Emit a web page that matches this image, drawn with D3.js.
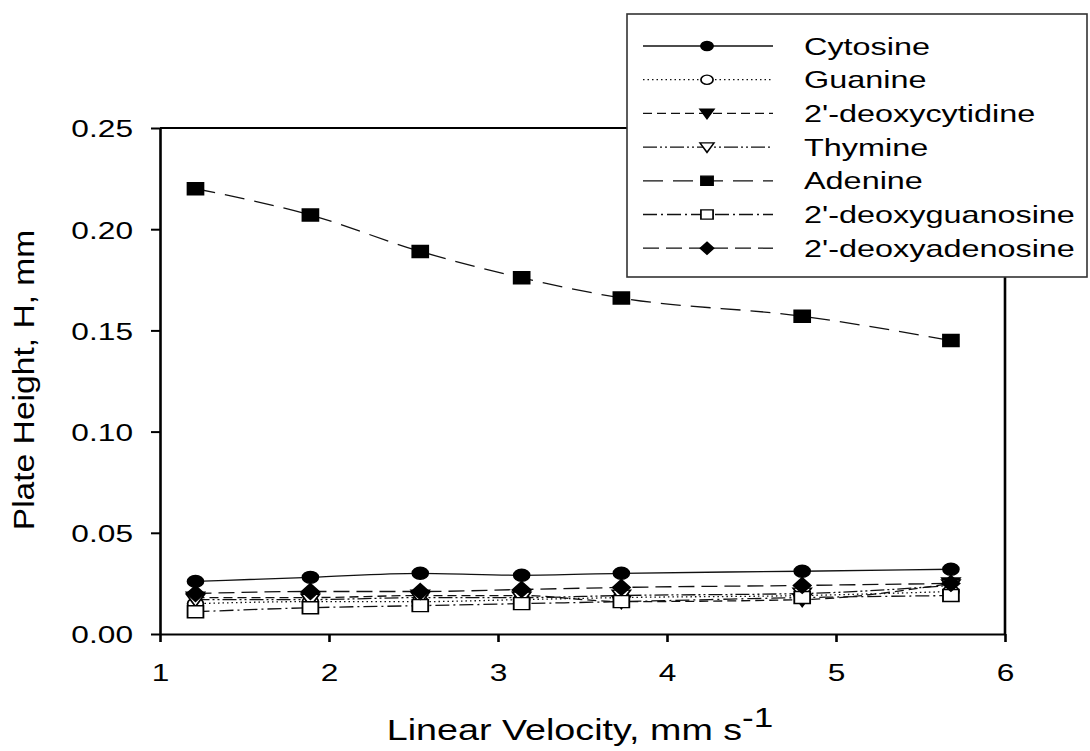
<!DOCTYPE html>
<html>
<head>
<meta charset="utf-8">
<script src="https://cdn.jsdelivr.net/npm/d3@7"></script>
<style>
  body { margin: 0; background: #fff; }
  text { font-family: "Liberation Sans", Arial, sans-serif; fill: #000; }
</style>
</head>
<body>
<div id="chart"></div>
<script>
// *****Data*****
var velocity = [1.21, 1.89, 2.54, 3.14, 3.73, 4.80, 5.68];

var cytosine           = [0.026, 0.028, 0.030, 0.029, 0.030, 0.031, 0.032];
var guanine            = [0.015, 0.016, 0.016, 0.017, 0.018, 0.019, 0.021];
var deoxycytidine      = [0.018, 0.018, 0.019, 0.019, 0.016, 0.017, 0.025];
var thymine            = [0.017, 0.017, 0.018, 0.018, 0.019, 0.020, 0.024];
var adenine            = [0.220, 0.207, 0.189, 0.176, 0.166, 0.157, 0.145];
var deoxyguanosine     = [0.011, 0.013, 0.014, 0.015, 0.016, 0.018, 0.019];
var deoxyadenosine     = [0.020, 0.021, 0.021, 0.022, 0.023, 0.024, 0.025];

var seriesNames = ["Cytosine", "Guanine", "2'-deoxycytidine", "Thymine",
                   "Adenine", "2'-deoxyguanosine", "2'-deoxyadenosine"];

var xTicks = [1, 2, 3, 4, 5, 6];
var yTicks = [0.00, 0.05, 0.10, 0.15, 0.20, 0.25];

// the picture is stretched sideways, text and markers follow that
var stretch = 1.32;

// *****Marker shapes*****
var circleM = { draw: function(ctx, r) { ctx.moveTo(r, 0); ctx.arc(0, 0, r, 0, 2 * Math.PI); } };
var squareM = { draw: function(ctx, r) { ctx.rect(-r, -r, 2 * r, 2 * r); } };
var triDownM = { draw: function(ctx, r) {
  ctx.moveTo(-r * 1.15, -r * 0.9); ctx.lineTo(r * 1.15, -r * 0.9); ctx.lineTo(0, r * 1.15); ctx.closePath();
} };
var diamondM = { draw: function(ctx, r) {
  ctx.moveTo(0, -r * 1.3); ctx.lineTo(r * 1.1, 0); ctx.lineTo(0, r * 1.3); ctx.lineTo(-r * 1.1, 0); ctx.closePath();
} };

var series = [
  {name: seriesNames[0], values: cytosine,       shape: circleM,  fill: "#000", dash: null},
  {name: seriesNames[1], values: guanine,        shape: circleM,  fill: "#fff", dash: "1.5,3"},
  {name: seriesNames[2], values: deoxycytidine,  shape: triDownM, fill: "#000", dash: "9,5"},
  {name: seriesNames[3], values: thymine,        shape: triDownM, fill: "#fff", dash: "14,3,2,3,2,3"},
  {name: seriesNames[4], values: adenine,        shape: squareM,  fill: "#000", dash: "20,10"},
  {name: seriesNames[5], values: deoxyguanosine, shape: squareM,  fill: "#fff", dash: "14,4,2,4"},
  {name: seriesNames[6], values: deoxyadenosine, shape: diamondM, fill: "#000", dash: "16,7"}
];

// *****Chart*****
var W = 1090, H = 751;
var svg = d3.select("#chart")
  .append("svg")
    .attr("width", W)
    .attr("height", H);

var x = d3.scaleLinear().domain([1, 6]).range([160, 1005]);
var y = d3.scaleLinear().domain([0, 0.25]).range([634, 128]);

// Y axis
var yAxis = svg.append("g")
  .attr("transform", "translate(" + x(1) + ",0)")
  .call(d3.axisLeft(y).tickValues(yTicks).tickFormat(d3.format(".2f")).tickSize(9).tickSizeOuter(0));
yAxis.select(".domain").attr("stroke-width", 2.6).attr("stroke", "#000");
yAxis.selectAll(".tick line").attr("stroke-width", 2).attr("stroke", "#000");
yAxis.selectAll(".tick text")
  .attr("x", -27 / stretch)
  .attr("dy", "0.37em")
  .attr("font-size", 24)
  .attr("font-family", "Liberation Sans, Arial, sans-serif")
  .attr("transform", "scale(" + stretch + ",1)");

// X axis
var xAxis = svg.append("g")
  .attr("transform", "translate(0," + y(0) + ")")
  .call(d3.axisBottom(x).tickValues(xTicks).tickFormat(d3.format("d")).tickSize(8).tickSizeOuter(0));
xAxis.select(".domain").attr("stroke-width", 2).attr("stroke", "#000");
xAxis.selectAll(".tick line").attr("stroke-width", 2.6).attr("stroke", "#000");
xAxis.selectAll(".tick text")
  .attr("y", 47)
  .attr("dy", 0)
  .attr("font-size", 24)
  .attr("font-family", "Liberation Sans, Arial, sans-serif")
  .attr("transform", "scale(" + stretch + ",1)");

// frame top and right
svg.append("line")
  .attr("x1", x(1)).attr("x2", x(6)).attr("y1", y(0.25)).attr("y2", y(0.25))
  .attr("stroke", "#000").attr("stroke-width", 2);
svg.append("line")
  .attr("x1", x(6)).attr("x2", x(6)).attr("y1", y(0.25) - 1).attr("y2", y(0))
  .attr("stroke", "#000").attr("stroke-width", 2.6);

// Lines
var line = d3.line()
  .x(function(d, i) { return x(velocity[i]); })
  .y(function(d) { return y(d); })
  .curve(d3.curveMonotoneX);

svg.selectAll("myline")
  .data(series)
  .enter()
  .append("path")
    .attr("d", function(s) { return line(s.values); })
    .attr("fill", "none")
    .attr("stroke", "#111")
    .attr("stroke-width", 1.3)
    .attr("stroke-dasharray", function(s) { return s.dash; });

// Markers
series.forEach(function(s) {
  svg.selectAll("mymarker")
    .data(s.values)
    .enter()
    .append("path")
      .attr("d", d3.symbol().type(s.shape).size(6))
      .attr("transform", function(d, i) {
        return "translate(" + x(velocity[i]) + "," + y(d) + ") scale(" + stretch + ",1)";
      })
      .attr("fill", s.fill)
      .attr("stroke", "#000")
      .attr("stroke-width", 1.4);
});

// *****Legend*****
var legend = svg.append("g");
legend.append("rect")
  .attr("x", 627).attr("y", 14).attr("width", 460).attr("height", 263)
  .attr("fill", "#fff").attr("stroke", "#333").attr("stroke-width", 1.6);

var rows = legend.selectAll("myrow")
  .data(series)
  .enter()
  .append("g")
    .attr("transform", function(s, i) { return "translate(0," + (46 + i * 33.7) + ")"; });

rows.append("line")
  .attr("x1", 643).attr("x2", 773)
  .attr("stroke", "#111").attr("stroke-width", 1.3)
  .attr("stroke-dasharray", function(s) { return s.dash; });

rows.append("path")
  .attr("d", function(s) { return d3.symbol().type(s.shape).size(4.6)(); })
  .attr("transform", "translate(707,0) scale(" + stretch + ",1)")
  .attr("fill", function(s) { return s.fill; })
  .attr("stroke", "#000").attr("stroke-width", 1.3);

rows.append("text")
  .attr("transform", "translate(804,8.6) scale(1.35,1)")
  .attr("font-size", 24)
  .text(function(s) { return s.name; });

// *****Axis titles*****
var xTitle = svg.append("text")
  .attr("transform", "translate(580,740) scale(1.3,1)")
  .attr("text-anchor", "middle")
  .attr("font-size", 29);
xTitle.append("tspan").text("Linear Velocity, mm s");
xTitle.append("tspan").attr("dy", -13).attr("font-size", 27).text("-1");

svg.append("text")
  .attr("transform", "translate(34,380) rotate(-90) scale(1.12,1)")
  .attr("text-anchor", "middle")
  .attr("font-size", 30)
  .text("Plate Height, H, mm");
</script>
</body>
</html>
